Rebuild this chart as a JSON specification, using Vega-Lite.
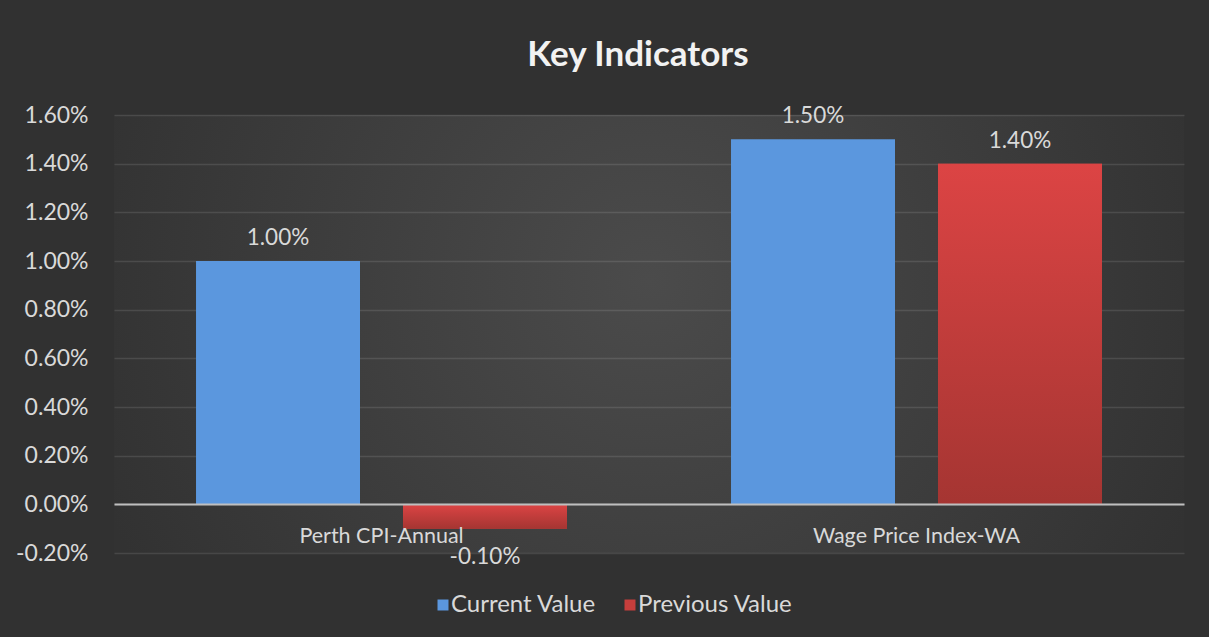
{
  "$schema": "https://vega.github.io/schema/vega-lite/v6.json",
  "width": 1070,
  "height": 438,
  "autosize": "none",
  "padding": {"left": 114, "top": 115, "right": 25, "bottom": 84},
  "background": "#313131",
  "title": {
    "text": "Key Indicators",
    "font": "Lato",
    "fontSize": 35,
    "fontWeight": "bold",
    "color": "#f2f2f2",
    "anchor": "middle",
    "dx": -11,
    "offset": 3,
    "baseline": "alphabetic"
  },
  "config": {
    "font": "Lato",
    "view": {
      "stroke": null,
      "fill": {
        "gradient": "radial",
        "x1": 0.5, "y1": 0.45, "r1": 0,
        "x2": 0.5, "y2": 0.45, "r2": 0.55,
        "stops": [
          {"offset": 0, "color": "#4b4b4b"},
          {"offset": 1, "color": "#323232"}
        ]
      }
    }
  },
  "data": {
    "values": [
      {"indicator": "Perth CPI-Annual", "series": "Current Value", "value": 1.0},
      {"indicator": "Perth CPI-Annual", "series": "Previous Value", "value": -0.1},
      {"indicator": "Wage Price Index-WA", "series": "Current Value", "value": 1.5},
      {"indicator": "Wage Price Index-WA", "series": "Previous Value", "value": 1.4}
    ]
  },
  "transform": [
    {"calculate": "replace(format(datum.value, '.2f'), '\u2212', '-') + '%'", "as": "label"}
  ],
  "encoding": {
    "x": {
      "field": "indicator",
      "type": "nominal",
      "sort": null,
      "scale": {"paddingInner": 0.3066, "paddingOuter": 0.1533},
      "axis": {
        "title": null,
        "labelAngle": 0,
        "labelLimit": 500,
        "domain": true,
        "domainColor": "#bfbfbf",
        "domainWidth": 2,
        "ticks": false,
        "grid": false,
        "offset": -49,
        "labelPadding": 21,
        "labelFont": "Lato",
        "labelFontSize": 21.5,
        "labelColor": "#d9d9d9",
        "zindex": 2
      }
    },
    "xOffset": {
      "field": "series",
      "type": "nominal",
      "sort": ["Current Value", "Previous Value"],
      "scale": {"paddingInner": 0.2077, "paddingOuter": 0}
    },
    "y": {
      "field": "value",
      "type": "quantitative",
      "scale": {"domain": [-0.2, 1.6], "nice": false, "zero": true},
      "axis": {
        "title": null,
        "values": [-0.2, 0, 0.2, 0.4, 0.6, 0.8, 1.0, 1.2, 1.4, 1.6],
        "labelExpr": "replace(format(datum.value, '.2f'), '\u2212', '-') + '%'",
        "domain": false,
        "ticks": false,
        "labelPadding": 26,
        "labelFont": "Lato",
        "labelFontSize": 23,
        "labelColor": "#d9d9d9",
        "gridColor": "#ffffff",
        "gridOpacity": 0.11,
        "gridWidth": 1.5
      }
    }
  },
  "layer": [
    {
      "mark": {"type": "bar"},
      "encoding": {
        "color": {
          "field": "series",
          "type": "nominal",
          "scale": {"domain": ["Current Value", "Previous Value"], "range": ["#5b97de", "#c73e3c"]},
          "legend": {
            "orient": "none",
            "legendX": 317,
            "legendY": 478,
            "padding": 0,
            "direction": "horizontal",
            "title": null,
            "symbolType": "square",
            "symbolSize": 121,
            "symbolStrokeWidth": 0,
            "labelFont": "Lato",
            "labelFontSize": 24,
            "labelColor": "#d9d9d9",
            "labelOffset": -4,
            "columnPadding": 22
          }
        }
      }
    },
    {
      "transform": [{"filter": "datum.series === 'Previous Value'"}],
      "mark": {
        "type": "bar",
        "fill": {
          "gradient": "linear",
          "x1": 0, "y1": 0, "x2": 0, "y2": 1,
          "stops": [
            {"offset": 0, "color": "#dc4444"},
            {"offset": 1, "color": "#a53532"}
          ]
        }
      },
      "encoding": {}
    },
    {
      "transform": [{"filter": "datum.value >= 0"}],
      "mark": {"type": "text", "baseline": "alphabetic", "dy": -16, "fontSize": 22.5, "font": "Lato", "color": "#d9d9d9"},
      "encoding": {"text": {"field": "label"}}
    },
    {
      "transform": [{"filter": "datum.value < 0"}],
      "mark": {"type": "text", "baseline": "alphabetic", "dy": 35, "fontSize": 22.5, "font": "Lato", "color": "#d9d9d9"},
      "encoding": {"text": {"field": "label"}}
    }
  ]
}
